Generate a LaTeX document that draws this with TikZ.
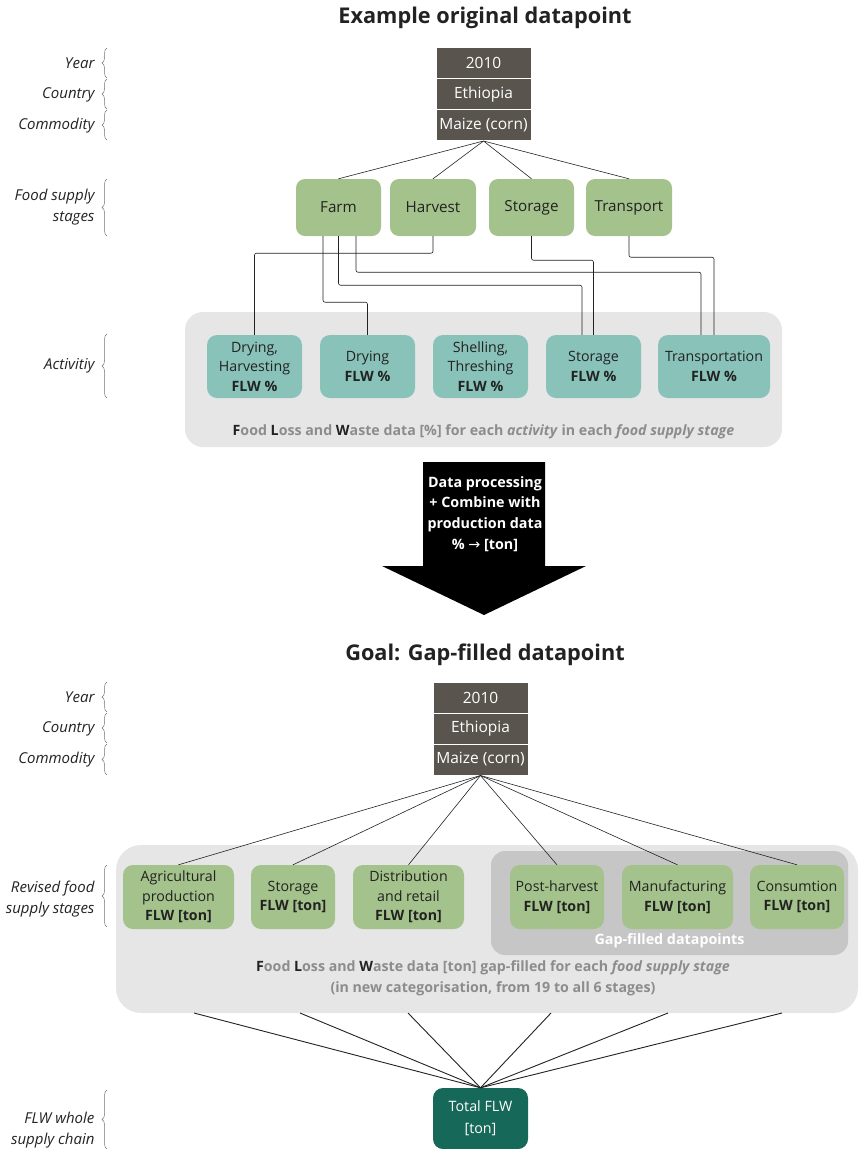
\documentclass[tikz,border=0pt]{standalone}
\usepackage{fontspec}
\setmainfont{Open Sans}
\newfontfamily\symf{DejaVu Sans}
\usetikzlibrary{decorations.pathreplacing}
\definecolor{dk}{RGB}{89,84,77}
\definecolor{gr}{RGB}{164,194,139}
\definecolor{tl}{RGB}{136,194,185}
\definecolor{pn}{RGB}{230,230,230}
\definecolor{pi}{RGB}{198,198,198}
\definecolor{tx}{RGB}{34,34,34}
\definecolor{cg}{RGB}{140,140,140}
\definecolor{tt}{RGB}{22,104,88}
\tikzset{db/.style={fill=dk, draw=white, line width=1pt, text=white, minimum width=95pt, minimum height=31pt, inner sep=0pt, font=\fontsize{15.5}{18}\selectfont}}
\tikzset{st/.style={fill=gr, rounded corners=9pt, minimum height=57pt, inner sep=0pt, text=tx, font=\fontsize{15.2}{18}\selectfont}}
\tikzset{ac/.style={fill=tl, rounded corners=10pt, minimum width=95pt, minimum height=63pt, inner sep=0pt, align=center, text=tx, font=\fontsize{14.2}{19.5}\selectfont}}
\tikzset{nw/.style={fill=gr, rounded corners=10pt, minimum height=64pt, inner sep=0pt, align=center, text=tx, font=\fontsize{14.2}{19.5}\selectfont}}
\tikzset{lb/.style={anchor=east, align=right, text=tx, font=\itshape\fontsize{15}{21}\selectfont}}
\tikzset{brc/.style={decorate, decoration={brace, amplitude=5pt}, draw=black!55, line width=0.5pt}}
\tikzset{ln/.style={draw=tx, line width=0.6pt}}
\tikzset{ttl/.style={text=tx, font=\bfseries\fontsize{21.7}{26}\selectfont}}
\newcommand{\dkl}[1]{\textcolor{tx}{#1}}

\begin{document}
\begin{tikzpicture}[x=1pt, y=-1pt]
                \useasboundingbox (0,0) rectangle (859,1149);
                % upper part
                \node[ttl] (t1) at (485,18) {Example original datapoint};
                \node[db] (y1) at (483.5,63) {2010};
                \node[db] (c1) at (483.5,94) {Ethiopia};
                \node[db] (m1) at (483.5,125) {Maize (corn)};
                \node[st, minimum width=85pt] (farm) at (338.5,207.5) {Farm};
                \node[st, minimum width=86pt] (harv) at (433,207.5) {Harvest};
                \node[st, minimum width=85pt] (stg) at (531.5,207.5) {Storage};
                \node[st, minimum width=86pt] (trn) at (629,207.5) {Transport};
                \foreach \s in {farm,harv,stg,trn} \draw[ln] (m1.south) -- (\s.north);
                \node[fill=pn, rounded corners=18pt, minimum width=597pt, minimum height=135pt] (pan1) at (483.5,379.5) {};
                \node[ac] (dh) at (254.5,366.5) {Drying,\\Harvesting\\\textbf{FLW \%}};
                \node[ac] (dr) at (367.5,366.5) {Drying\\\textbf{FLW \%}};
                \node[ac] (sh) at (480.5,366.5) {Shelling,\\Threshing\\\textbf{FLW \%}};
                \node[ac] (sa) at (593.5,366.5) {Storage\\\textbf{FLW \%}};
                \node[ac, minimum width=112pt] (ta) at (714,366.5) {Transportation\\\textbf{FLW \%}};
                \node[text=cg, font=\bfseries\fontsize{14.2}{17}\selectfont] (cap1) at (483.5,432) {\dkl{F}ood \dkl{L}oss and \dkl{W}aste data [\%] for each \textit{activity} in each \textit{food supply stage}};
                \draw[ln, rounded corners=2pt] (harv.south) -- ++(0,17) -| (dh.north);
                \draw[ln, rounded corners=2pt] ([xshift=-15.5pt]farm.south) -- ++(0,66) -| (dr.north);
                \draw[ln, rounded corners=2pt] (farm.south) -- ++(0,49) -| ([xshift=-11.5pt]sa.north);
                \draw[ln, rounded corners=2pt] ([xshift=17.5pt]farm.south) -- ++(0,36) -| ([xshift=-13pt]ta.north);
                \draw[ln, rounded corners=2pt] (stg.south) -- ++(0,24) -| (sa.north);
                \draw[ln, rounded corners=2pt] (trn.south) -- ++(0,21) -| (ta.north);
                % left labels
                \node[lb] (l1) at (98,63) {Year};
                \node[lb] (l2) at (98,95) {Country};
                \node[lb] (l3) at (98,126) {Commodity};
                \node[lb] (l4) at (98,207.5) {Food supply\\stages};
                \node[lb] (l5) at (98,366) {Activitiy};
                \draw[brc] (107,78) -- (107,48);
                \draw[brc] (107,109) -- (107,79);
                \draw[brc] (107,140) -- (107,110);
                \draw[brc] (107,236) -- (107,179);
                \draw[brc] (107,398) -- (107,334);
                % arrow
                \fill[black] (423,462) -- (545,462) -- (545,566) -- (586,566) -- (484,615) -- (382,566) -- (423,566) -- cycle;
                \node[text=white, align=center, font=\bfseries\fontsize{14.3}{20.7}\selectfont] (arr) at (485,514) {Data processing\\+ Combine with\\production data\\\% {\symf\mdseries →} [ton]};
                % lower part
                \node[ttl] (t2) at (485,655) {Goal: Gap-filled datapoint};
                \node[db] (y2) at (480.5,697.5) {2010};
                \node[db] (c2) at (480.5,728.5) {Ethiopia};
                \node[db] (m2) at (480.5,759.5) {Maize (corn)};
                \node[fill=pn, rounded corners=25pt, minimum width=742pt, minimum height=168pt] (pan2) at (487,929) {};
                \node[fill=pi, rounded corners=14pt, minimum width=357pt, minimum height=104pt] (pan3) at (669.5,903) {};
                \node[text=white, font=\bfseries\fontsize{14.3}{17}\selectfont] (gf) at (669.5,941) {Gap-filled datapoints};
                \node[nw, minimum width=111pt] (ap) at (178.5,897) {Agricultural\\production\\\textbf{FLW [ton]}};
                \node[nw, minimum width=84pt] (sg) at (293,897) {Storage\\\textbf{FLW [ton]}};
                \node[nw, minimum width=111pt] (dt) at (408.5,897) {Distribution\\and retail\\\textbf{FLW [ton]}};
                \node[nw, minimum width=94pt] (ph) at (557,897) {Post-harvest\\\textbf{FLW [ton]}};
                \node[nw, minimum width=111pt] (mf) at (677.5,897) {Manufacturing\\\textbf{FLW [ton]}};
                \node[nw, minimum width=94pt] (cs) at (797,897) {Consumtion\\\textbf{FLW [ton]}};
                \foreach \s in {ap,sg,dt,ph,mf,cs} \draw[ln] (m2.south) -- (\s.north);
                \node[text=cg, align=center, font=\bfseries\fontsize{14.2}{21}\selectfont] (cap2) at (493,978.5) {\dkl{F}ood \dkl{L}oss and \dkl{W}aste data [ton] gap-filled for each \textit{food supply stage}\\(in new categorisation, from 19 to all 6 stages)};
                \node[fill=tt, rounded corners=10pt, minimum width=95pt, minimum height=61pt, align=center, text=white, font=\fontsize{14.3}{22}\selectfont] (tot) at (480.5,1118.5) {Total FLW\\{[ton]}};
                \foreach \x [count=\i] in {194,300,408,551,668,782} {
                    \coordinate (b\i) at (\x,1013);
                    \draw[draw=tx, line width=0.9pt] (b\i) -- (tot.north);
                }
                \node[lb] (l6) at (98,697.5) {Year};
                \node[lb] (l7) at (98,728.5) {Country};
                \node[lb] (l8) at (98,759.5) {Commodity};
                \node[lb] (l9) at (98,899) {Revised food\\supply stages};
                \node[lb] (l10) at (98,1130) {FLW whole\\supply chain};
                \draw[brc] (107,712) -- (107,682);
                \draw[brc] (107,743) -- (107,713);
                \draw[brc] (107,775) -- (107,744);
                \draw[brc] (107,927) -- (107,865);
                \draw[brc] (107,1149) -- (107,1090);
            \end{tikzpicture}
\end{document}
